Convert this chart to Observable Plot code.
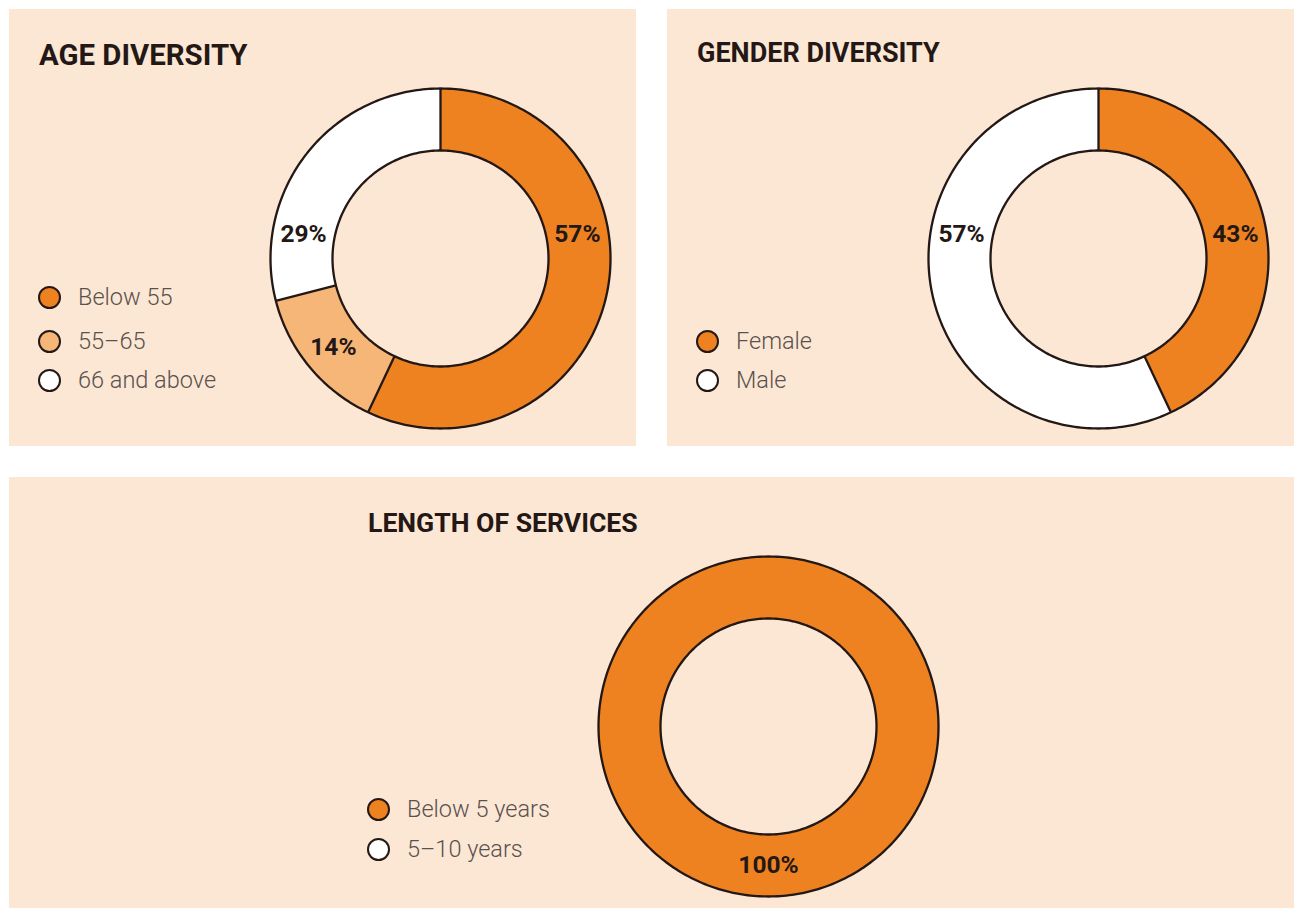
<!DOCTYPE html>
<html>
<head>
<meta charset="utf-8">
<script src="https://cdn.jsdelivr.net/npm/d3@7"></script>
<script src="https://cdn.jsdelivr.net/npm/@observablehq/plot@0.6"></script>
<style>
  html, body { margin: 0; padding: 0; background: #ffffff; }
  body { width: 1300px; height: 909px; position: relative; overflow: hidden; font-family: Roboto, "Noto Sans", sans-serif; }
  .panel { position: absolute; background: #FCE7D4; }
  .title { position: absolute; font-weight: 700; color: #231815; white-space: nowrap; line-height: 1; }
  .legend { position: absolute; }
  .item { position: absolute; left: 0; display: flex; align-items: center; white-space: nowrap; }
  .sw { width: 19px; height: 19px; border-radius: 50%; border: 2.5px solid #231815; box-sizing: content-box; margin-right: 17px; }
  .lab { font-size: 23.5px; font-weight: 300; color: #5a514e; line-height: 1; }
  .chart { position: absolute; }
</style>
</head>
<body>
<div id="p1" class="panel" style="left:9px;top:9px;width:627px;height:437px;"></div>
<div id="p2" class="panel" style="left:667px;top:9px;width:627px;height:437px;"></div>
<div id="p3" class="panel" style="left:9px;top:477px;width:1285px;height:431px;"></div>
<script>
// ---- Data ----
const ageCategories = ["Below 55", "55–65", "66 and above"];
const ageValues = [57, 14, 29];
const ageColors = ["#EE8221", "#F5B678", "#FFFFFF"];

const genderCategories = ["Female", "Male"];
const genderValues = [43, 57];
const genderColors = ["#EE8221", "#FFFFFF"];

const serviceCategories = ["Below 5 years", "5–10 years"];
const serviceValues = [100, 0];
const serviceColors = ["#EE8221", "#FFFFFF"];

const titles = ["AGE DIVERSITY", "GENDER DIVERSITY", "LENGTH OF SERVICES"];

// ---- Drawing ----
const INK = "#231815";
const INNER = 108 / 170;   // inner radius ratio
const PAD = 180 / 170;     // domain half-extent so outer radius = 170px

function donut(cats, vals, colors) {
  const total = d3.sum(vals);
  const TAU = Math.PI * 2;
  let acc = 0;
  const slices = cats.map((c, i) => {
    const a0 = acc / total * TAU; acc += vals[i];
    const a1 = acc / total * TAU;
    return { c, v: vals[i], a0, a1 };
  });
  const live = slices.filter(s => s.v > 0);
  const poly = [];
  for (const s of live) {
    const n = Math.max(2, Math.ceil((s.a1 - s.a0) / TAU * 360));
    for (let k = 0; k <= n; k++) { const a = s.a0 + (s.a1 - s.a0) * k / n; poly.push({ c: s.c, x: Math.sin(a), y: Math.cos(a) }); }
    for (let k = n; k >= 0; k--) { const a = s.a0 + (s.a1 - s.a0) * k / n; poly.push({ c: s.c, x: INNER * Math.sin(a), y: INNER * Math.cos(a) }); }
  }
  const rings = [];
  for (const [ring, rr] of [["outer", 1], ["inner", INNER]]) {
    for (let k = 0; k < 360; k++) { const a = k / 360 * TAU; rings.push({ ring, x: rr * Math.sin(a), y: rr * Math.cos(a) }); }
  }
  const bounds = live.length > 1 ? live.map(s => ({
    x1: INNER * Math.sin(s.a0), y1: INNER * Math.cos(s.a0), x2: Math.sin(s.a0), y2: Math.cos(s.a0)
  })) : [];
  const mid = (1 + INNER) / 2;
  const spans = (s, deg) => { const a = deg / 360 * TAU; return a >= s.a0 && a <= s.a1; };
  const labels = live.map(s => {
    let a;
    if (s.a1 - s.a0 >= TAU - 1e-9) a = Math.PI;
    else if (spans(s, 80)) a = 80 / 360 * TAU;
    else if (spans(s, 280)) a = 280 / 360 * TAU;
    else a = (s.a0 + s.a1) / 2;
    return { t: s.v + "%", x: mid * Math.sin(a), y: mid * Math.cos(a) };
  });
  return Plot.plot({
    width: 360, height: 360, margin: 0,
    x: { domain: [-PAD, PAD], axis: null },
    y: { domain: [-PAD, PAD], axis: null },
    color: { domain: cats, range: colors },
    style: { background: "transparent", overflow: "visible" },
    marks: [
      Plot.line(poly, { x: "x", y: "y", z: "c", fill: "c", stroke: "none", curve: "linear-closed" }),
      Plot.line(rings, { x: "x", y: "y", z: "ring", stroke: INK, strokeWidth: 2.3, fill: "none", curve: "linear-closed" }),
      Plot.link(bounds, { x1: "x1", y1: "y1", x2: "x2", y2: "y2", stroke: INK, strokeWidth: 2.3 }),
      Plot.text(labels, { x: "x", y: "y", text: "t", fill: INK, fontSize: 24.5, fontWeight: 700, fontFamily: "Roboto, sans-serif" })
    ]
  });
}

function panel(id, title, titleSize, titlePos, legendPos, gaps, chartPos, cats, vals, colors) {
  const p = document.getElementById(id);
  const t = document.createElement("div");
  t.className = "title"; t.textContent = title; t.style.fontSize = titleSize + "px";
  t.style.left = titlePos[0] + "px"; t.style.top = titlePos[1] + "px";
  p.appendChild(t);
  const lg = document.createElement("div");
  lg.className = "legend"; lg.style.left = legendPos[0] + "px"; lg.style.top = legendPos[1] + "px";
  let y = 0;
  cats.forEach((c, i) => {
    const it = document.createElement("div"); it.className = "item"; it.style.top = y + "px";
    const sw = document.createElement("span"); sw.className = "sw"; sw.style.background = colors[i];
    const lb = document.createElement("span"); lb.className = "lab"; lb.textContent = c;
    it.appendChild(sw); it.appendChild(lb); lg.appendChild(it);
    y += gaps[i] || 0;
  });
  p.appendChild(lg);
  const ch = donut(cats, vals, colors);
  ch.classList.add("chart");
  ch.style.left = chartPos[0] + "px"; ch.style.top = chartPos[1] + "px";
  p.appendChild(ch);
}

panel("p1", titles[0], 29.4, [30, 32], [29, 277], [44, 39], [251, 69], ageCategories, ageValues, ageColors);
panel("p2", titles[1], 27, [30, 31], [29, 321], [39], [251, 69], genderCategories, genderValues, genderColors);
panel("p3", titles[2], 26.6, [359, 33], [358, 321], [40], [579, 69], serviceCategories, serviceValues, serviceColors);
</script>
</body>
</html>
